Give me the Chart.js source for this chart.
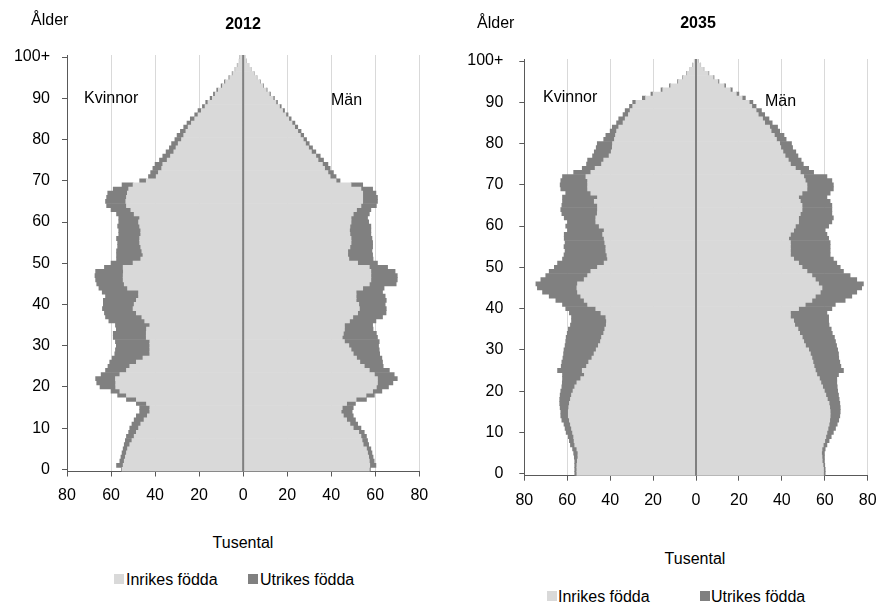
<!DOCTYPE html>
<html>
<head>
<meta charset="utf-8">
<script src="https://cdn.jsdelivr.net/npm/chart.js@4"></script>
<style>
body { margin: 0; background: #fff; font-family: Arial, "Liberation Sans", sans-serif; }
#wrap { position: relative; width: 879px; height: 604px; overflow: hidden; }
canvas { position: absolute; top: 0; }
.t { position: absolute; font-size: 16px; line-height: 16px; color: #000; white-space: nowrap; }
.c { transform: translateX(-50%); }
.b { font-weight: bold; }
.sq { position: absolute; width: 10px; height: 10px; }
</style>
</head>
<body>
<div id="wrap">
  <canvas id="c2012" width="440" height="520" style="left:0"></canvas>
  <canvas id="c2035" width="439" height="520" style="left:450px"></canvas>

  <div class="t" style="left:31px;top:12px">Ålder</div>
  <div class="t b c" style="left:243px;top:16px">2012</div>
  <div class="t" style="left:84px;top:90px">Kvinnor</div>
  <div class="t" style="left:331px;top:92px">Män</div>
  <div class="t c" style="left:243px;top:535px">Tusental</div>
  <div class="sq" style="left:114px;top:574px;background:#d9d9d9"></div>
  <div class="t" style="left:126px;top:572px">Inrikes födda</div>
  <div class="sq" style="left:248px;top:574px;background:#808080"></div>
  <div class="t" style="left:260px;top:572px">Utrikes födda</div>

  <div class="t" style="left:477px;top:15px">Ålder</div>
  <div class="t b c" style="left:698px;top:15px">2035</div>
  <div class="t" style="left:543px;top:89px">Kvinnor</div>
  <div class="t" style="left:765px;top:93px">Män</div>
  <div class="t c" style="left:695px;top:551px">Tusental</div>
  <div class="sq" style="left:547px;top:591px;background:#d9d9d9"></div>
  <div class="t" style="left:558px;top:589px">Inrikes födda</div>
  <div class="sq" style="left:700px;top:591px;background:#808080"></div>
  <div class="t" style="left:711px;top:589px">Utrikes födda</div>
</div>
<script>
// ålder 0..100+
const ages = [];
for (let a = 0; a <= 100; a++) ages.push(a === 100 ? '100+' : String(a));

const xTicks = [-80, -60, -40, -20, 0, 20, 40, 60, 80];

// 2012, tusental
const kvinnorInrikes2012 = [
  55, 54.5, 54, 53.5, 53, 52.5, 51.5, 50.5, 49.5, 48.5,
  47.5, 46.5, 45, 43.5, 42.4, 42.4, 43.9, 48.5, 53, 56,
  57.9, 57.9, 58, 56, 53, 51.5, 48.5, 45.5, 42.4, 42.4,
  42.4, 42.4, 44, 44, 43.9, 42.4, 44.7, 46, 48.5, 50,
  49.5, 48.5, 47.5, 47.5, 52.5, 54, 54.5, 54.5, 54.4, 54.5,
  50, 46.5, 45.5, 46, 46.5, 47, 47, 46.5, 46.5, 47,
  47.5, 47, 49.5, 51, 53, 53.3, 53, 52.6, 52, 50,
  44, 39.5, 38.5, 37, 36.5, 34.5, 33, 31.5, 30.5, 29.5,
  28, 27, 26, 25, 23.5, 22, 20.5, 19, 17.3, 16,
  14, 12.7, 11.3, 9.4, 8, 6.1, 4.7, 3.5, 2.5, 1.7,
  1.4
];
const kvinnorUtrikes2012 = [
  0.3, 3, 2, 2, 2, 2, 2.5, 3, 3.5, 3.5,
  4, 4, 4.5, 5, 4.6, 4.6, 4.6, 4.5, 4, 4,
  7.1, 8.6, 9, 8.5, 9.5, 9.9, 12.1, 14, 15.9, 15.6,
  15.2, 15.6, 15, 15, 13.7, 15.6, 16.3, 16.5, 14.5, 13.9,
  14, 15, 15, 16.5, 13, 12.5, 12.5, 12.8, 12.6, 8.5,
  10, 11, 12, 11.5, 10.5, 10, 10.5, 10, 10, 10,
  9, 9.5, 8, 9, 9, 9.2, 9, 8.9, 7, 5,
  3, 3.5, 3.5, 4, 3.5, 3.5, 3.5, 3.5, 3, 3,
  3, 3, 2.5, 2, 2, 2, 1.5, 1.5, 1.2, 1,
  1, 0.8, 0.7, 0.6, 0.5, 0.4, 0.3, 0.2, 0.2, 0.1,
  0.1
];
const manInrikes2012 = [
  57.3, 57.5, 57.3, 57, 56.5, 56, 54.5, 54, 53.5, 52.5,
  50, 48.5, 47, 45.5, 44.5, 45, 47, 51.3, 55.8, 58.8,
  60.5, 61, 61, 59.6, 57.3, 55, 53, 51.5, 50, 49,
  48, 46, 45, 45.5, 46, 46, 48.3, 49.8, 52, 52.8,
  52.5, 51.3, 51.3, 51.3, 54.3, 57.3, 58, 58, 58, 57.3,
  52, 48, 47.5, 47.5, 48.5, 49, 49, 48.5, 48.3, 48.5,
  49, 49, 50, 51.5, 53.5, 54.3, 54.3, 54.3, 53.5, 49,
  42.2, 39.5, 38.5, 37, 36, 34, 33, 31, 29.7, 28.3,
  27.3, 26, 24.8, 23.4, 22.2, 20.7, 19.4, 17.9, 16.5, 14.9,
  13.6, 11.9, 10.5, 9, 7.5, 6.1, 4.8, 3.5, 2.5, 1.5,
  0.75
];
const manUtrikes2012 = [
  0.5, 2.8, 2.2, 2, 2, 2, 2.5, 2.5, 2.5, 2.5,
  3.5, 3.5, 4, 4.5, 5, 5, 4, 4.7, 3.8, 4.2,
  5.5, 7, 9, 9, 9.1, 8.6, 10.3, 11.5, 12, 12.8,
  13.5, 15.8, 16, 15, 13, 12.8, 12, 13.5, 12.9, 12.2,
  12, 13.7, 13.2, 12, 9.7, 12.2, 12, 12, 11, 8.3,
  9, 11, 11.3, 11, 10.3, 9.8, 9.5, 9.5, 9.7, 9.5,
  8, 7.5, 7.3, 6.5, 7, 6.7, 6.7, 6, 5.3, 5.3,
  1.8, 2.7, 2.5, 2.5, 2.5, 2.5, 2, 2, 1.8, 1.7,
  1.5, 1.5, 1.5, 1.4, 1.3, 1.1, 1, 0.9, 0.8, 0.7,
  0.6, 0.5, 0.4, 0.3, 0.3, 0.2, 0.2, 0.1, 0.1, 0.1,
  0.05
];

// 2035, tusental
const kvinnorInrikes2035 = [
  55.5, 55.5, 55.5, 55.3, 55, 55, 55.5, 56.5, 56.8, 57,
  57.5, 58, 58.5, 59, 59.5, 59.5, 59.3, 59, 58.5, 58,
  57.3, 56.5, 55.5, 53.7, 52, 53, 51, 50, 48.5, 47.5,
  46.5, 45.5, 44.5, 44, 43, 42.5, 41.8, 41.7, 42, 44.3,
  46.7, 50.5, 52.1, 53.7, 55.2, 55.5, 55.2, 52.1, 50.5, 49,
  45.9, 42.8, 41.2, 41.5, 42, 42, 42.5, 42.8, 43.5, 42.8,
  45.1, 46.7, 46.7, 46, 45.9, 45.9, 47.4, 45.9, 49, 50.5,
  50.5, 50.5, 51.3, 49, 47, 44, 43, 40.5, 39.5, 39,
  38.9, 38, 37.5, 37, 36, 34, 33, 31.5, 30.7, 29.5,
  28, 23.5, 20, 15.5, 11.8, 8.2, 5.9, 4.2, 2.7, 1.5,
  0.75
];
const kvinnorUtrikes2035 = [
  1, 1, 1, 1.2, 1.7, 2, 2, 2, 2.2, 2.5,
  3, 3, 3, 3.5, 3.5, 3.5, 4, 4.5, 5, 5.3,
  5.7, 6, 6.8, 8.5, 10.2, 11.5, 11.8, 12.5, 13.5, 14.2,
  15, 15.5, 16.2, 16.5, 17, 17, 16.7, 16.3, 16, 14.7,
  14, 11.7, 13.2, 14.7, 16.3, 18.4, 19.4, 20.2, 19.5, 19.4,
  20.1, 21.7, 21, 20, 19, 19.5, 18.5, 18.6, 17.9, 17.1,
  15.6, 13.2, 14.7, 16.5, 17.1, 16.6, 14.8, 16.3, 11.7, 12.5,
  12.8, 12.5, 10.9, 8, 6, 7, 7.5, 7.7, 7.9, 7.5,
  7.1, 5, 4.5, 3, 3, 3, 3, 2.5, 2.3, 1.5,
  1.5, 1.5, 1, 0.8, 0.6, 0.4, 0.3, 0.2, 0.1, 0.1,
  0.05
];
const manInrikes2035 = [
  59.4, 59.4, 59.2, 58.8, 58.7, 58.5, 58.7, 59.3, 60, 60.5,
  61, 61.5, 62, 62.3, 62.5, 62.5, 62.3, 62, 61.2, 60.5,
  59.8, 59, 58.2, 57.5, 56.3, 55.6, 55, 54.5, 54, 53.3,
  52.5, 51, 50.2, 49.5, 48.3, 47.5, 46, 45.5, 44, 44,
  47.8, 50.9, 54, 55.6, 57.9, 58.7, 57.1, 55.6, 54, 51.7,
  49.4, 47.8, 45.5, 44, 44, 44, 44, 43.2, 44, 45.5,
  46.3, 47.8, 47.8, 48.6, 49.4, 49.4, 48.6, 47.8, 49.4, 51.7,
  51.7, 50.9, 50.2, 48.6, 46.3, 44, 43, 41.5, 40.5, 39.5,
  39, 37.5, 36.5, 35, 34.3, 32, 31, 29, 28, 26,
  24.8, 21.5, 18.8, 16, 13.1, 10.2, 8, 5.7, 3.5, 2.1,
  1.05
];
const manUtrikes2035 = [
  0.8, 0.8, 0.8, 1, 1.1, 1.3, 1.5, 1.7, 2, 2.5,
  3, 3.5, 3.8, 4.2, 4.5, 4.7, 4.9, 5, 5.5, 5.9,
  6.2, 6.8, 7.4, 8.1, 10.1, 13.1, 12.5, 12.5, 12.5, 13.1,
  13.5, 14.5, 14.8, 15, 15.2, 15.5, 16, 16.3, 17.8, 17,
  15.5, 14, 15.5, 17, 17, 18.5, 20.9, 19.3, 17.8, 17,
  17.8, 17.8, 18.5, 18.5, 18.5, 18.5, 18.5, 18.6, 17, 14.7,
  15.5, 15.5, 16.2, 14.7, 13.9, 13.9, 13.9, 13.2, 13.1, 12.3,
  12.3, 12.4, 10.8, 6.2, 6.2, 6, 6, 6, 6, 5.5,
  5.5, 4.5, 4.5, 4, 3.7, 3.5, 3, 3, 2.5, 2,
  1.7, 1.5, 1.2, 0.9, 0.7, 0.5, 0.4, 0.3, 0.2, 0.1,
  0.05
];

const LJUS = '#d9d9d9';
const MORK = '#808080';
const AXEL = '#595959';
const INGEN = 'rgba(0,0,0,0)';
const FONT = { family: 'Arial, "Liberation Sans", sans-serif', size: 16 };

// mittlinjen vid 0 ritas ovanpå staplarna
const nollLinje = {
  id: 'nollLinje',
  afterDatasetsDraw(chart) {
    const { ctx, chartArea, scales } = chart;
    const px = scales.x.getPixelForValue(0);
    ctx.save();
    ctx.strokeStyle = MORK;
    ctx.lineWidth = 2;
    ctx.beginPath();
    ctx.moveTo(px, chartArea.top);
    ctx.lineTo(px, chartArea.bottom);
    ctx.stroke();
    ctx.restore();
  }
};

function bar(data, color) {
  return {
    data: data,
    backgroundColor: color,
    borderWidth: 0,
    barPercentage: 1,
    categoryPercentage: 1
  };
}

function makeChart(id, kvIn, kvUt, mIn, mUt, box) {
  return new Chart(document.getElementById(id), {
    type: 'bar',
    data: {
      labels: ages,
      datasets: [
        bar(kvIn.map(v => -v), LJUS),
        bar(kvUt.map(v => -v), MORK),
        bar(mIn, LJUS),
        bar(mUt, MORK)
      ]
    },
    options: {
      indexAxis: 'y',
      responsive: false,
      animation: false,
      devicePixelRatio: 1,
      layout: { padding: { left: 0, top: box.top, right: box.right, bottom: 0 } },
      plugins: { legend: { display: false }, tooltip: { enabled: false } },
      scales: {
        x: {
          type: 'linear',
          stacked: true,
          min: xTicks[0],
          max: xTicks[xTicks.length - 1],
          afterBuildTicks: s => { s.ticks = xTicks.map(v => ({ value: v })); },
          ticks: { callback: v => Math.abs(v), color: '#000', font: FONT, padding: box.xpad, maxRotation: 0 },
          grid: { color: LJUS, lineWidth: 1, tickColor: AXEL, tickLength: 5 },
          border: { color: AXEL, width: 1 },
          afterFit: s => { s.height = box.xh; }
        },
        y: {
          stacked: true,
          reverse: true,
          ticks: {
            autoSkip: false,
            callback: (v, i) => (i % 10 === 0 ? ages[i] : ''),
            color: '#000',
            font: FONT,
            padding: box.ypad
          },
          grid: {
            offset: false,
            drawOnChartArea: false,
            tickLength: 5,
            color: c => (c.index % 10 === 0 ? AXEL : INGEN),
            tickColor: c => (c.index % 10 === 0 ? AXEL : INGEN)
          },
          border: { color: AXEL, width: 1 },
          afterFit: s => { s.width = box.left; }
        }
      }
    },
    plugins: [nollLinje]
  });
}

makeChart('c2012', kvinnorInrikes2012, kvinnorUtrikes2012, manInrikes2012, manUtrikes2012,
  { left: 67, right: 20.7, top: 55, xh: 48.5, xpad: 9, ypad: 12 });
makeChart('c2035', kvinnorInrikes2035, kvinnorUtrikes2035, manInrikes2035, manUtrikes2035,
  { left: 74.3, right: 21.3, top: 59, xh: 44.3, xpad: 10, ypad: 16 });
</script>
</body>
</html>
